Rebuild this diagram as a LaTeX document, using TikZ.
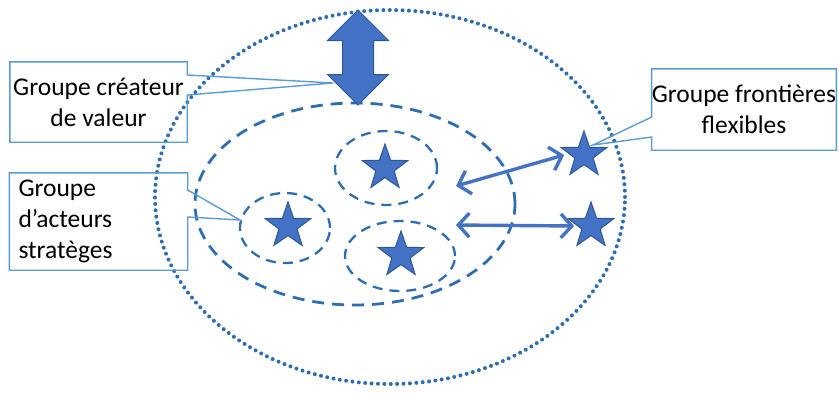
\documentclass[tikz,border=0pt]{standalone}
\usepackage{fontspec}
\setmainfont{Carlito}
\usetikzlibrary{shapes.geometric,shapes.arrows,arrows.meta,positioning}

\definecolor{starblue}{RGB}{68,114,196}
\definecolor{stardark}{RGB}{47,85,151}
\definecolor{lineblue}{RGB}{46,110,176}
\definecolor{boxblue}{RGB}{91,155,213}

\begin{document}
\begin{tikzpicture}[x=1pt, y=-1pt,
  font=\fontsize{25.5}{31}\selectfont,
  outerzone/.style={draw=lineblue, ellipse, inner sep=0pt, line width=4pt,
                    dash pattern=on 0pt off 6.4pt, line cap=round},
  zone/.style={draw=lineblue, ellipse, inner sep=0pt, line width=2.8pt,
               dash pattern=on 12pt off 8pt},
  subzone/.style={draw=lineblue, ellipse, inner sep=0pt, line width=2.3pt,
                  dash pattern=on 10pt off 7pt},
  etoile/.style={star, star points=5, star point ratio=2.5, minimum size=48pt,
                 inner sep=0pt, fill=starblue, draw=stardark, line width=1pt},
  link/.style={{Straight Barb[length=11pt,width=24pt]}-{Straight Barb[length=11pt,width=24pt]},
               line width=3.4pt, draw=starblue},
  callbox/.style={inner sep=0pt, align=center},
  callline/.style={draw=boxblue, line width=1.4pt, line join=miter},
]
\useasboundingbox (0,0) rectangle (839,392);

%% ---------- zones ----------
\node[outerzone, minimum width=470pt, minimum height=374pt] (outer) at (390,197) {};
\node[zone, minimum width=320pt, minimum height=202pt] (inner) at (355,204) {};
\node[subzone, minimum width=102pt, minimum height=74pt] (zt) at (386,168) {};
\node[subzone, minimum width=90pt, minimum height=70pt] (zl) at (285,228) {};
\node[subzone, minimum width=110pt, minimum height=70pt] (zb) at (400,256) {};

%% ---------- stars ----------
\node[etoile] (s1) at (385,168) {};
\node[etoile] (s2) at (288,226) {};
\node[etoile] (s3) at (401,255) {};
\node[etoile] (s4) at (584,155) {};
\node[etoile] (s5) at (591,226) {};

%% ---------- value exchange ----------
\node[double arrow, shape border rotate=90, fill=starblue, draw=stardark, line width=1pt,
      minimum height=95pt, minimum width=60pt, inner sep=15pt,
      double arrow head extend=15pt] (val) at (358,57.5) {};

\coordinate (e1) at (456,186);
\coordinate (e2) at (456,225);
\draw[link] (e1) -- ([xshift=-6pt]s4.west);
\draw[link] (e2) -- ([xshift=-3pt]s5.west);

%% ---------- callouts ----------
\node[callbox, minimum width=177pt, minimum height=80pt] (valbox) at (98.5,102)
  {Groupe créateur\\de valeur};
\coordinate (valtip) at (333,83);
\draw[callline] (valbox.north west) -- (valbox.north east) -- ([yshift=27pt]valbox.east)
  -- (valtip) -- ([yshift=7pt]valbox.east) -- (valbox.south east)
  -- (valbox.south west) -- cycle;

\node[callbox, align=left, text width=160pt, minimum height=97pt, inner xsep=9pt]
  (actbox) at (98.5,221.5) {Groupe\\d’acteurs\\stratèges};
\coordinate (acttip) at (240,220);
\draw[callline] (actbox.north west) -- (actbox.north east) -- ([yshift=31.5pt]actbox.east)
  -- (acttip) -- ([yshift=4.5pt]actbox.east) -- (actbox.south east)
  -- (actbox.south west) -- cycle;

\node[callbox, minimum width=182pt, minimum height=81pt] (frbox) at (744,109.5)
  {Groupe frontières\\flexibles};
\coordinate (frtip) at (593,145);
\draw[callline] (frbox.north west) -- (frbox.north east) -- (frbox.south east)
  -- (frbox.south west) -- ([yshift=-27.5pt]frbox.west) -- (frtip)
  -- ([yshift=-7.5pt]frbox.west) -- cycle;

\end{tikzpicture}
\end{document}
